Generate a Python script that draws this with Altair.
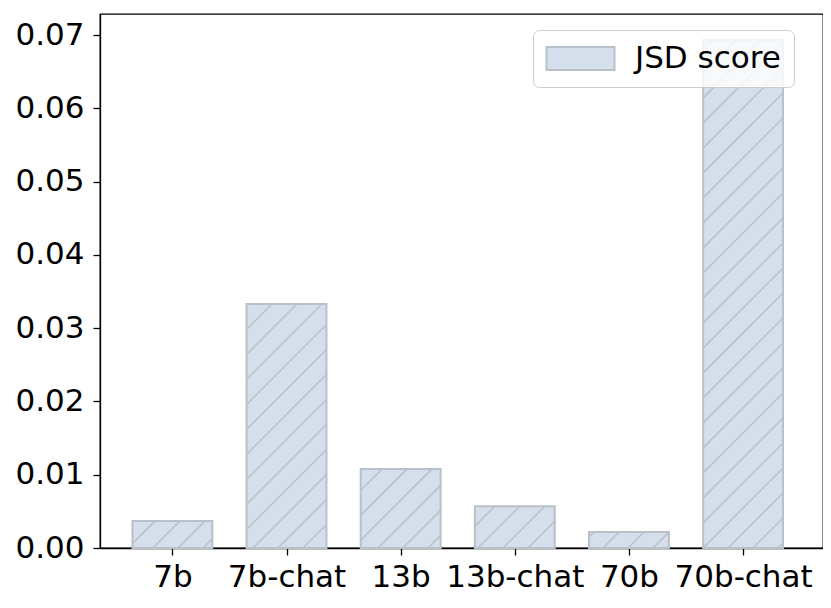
import json
import altair as alt
import pandas as pd

# ---- data ----
models = ["7b", "7b-chat", "13b", "13b-chat", "70b", "70b-chat"]
jsd = [0.0037, 0.0333, 0.0108, 0.0057, 0.0022, 0.0694]
y_ticks = [0.00, 0.01, 0.02, 0.03, 0.04, 0.05, 0.06, 0.07]
series_name = "JSD score"

# ---- layout / style ----
W, H = 723, 534
XDOM = [-0.634, 5.70]
YDOM = [0.0, 0.0729]
BAR_W = 0.7
HATCH_STEP = 25.0
HATCH_PHASE = 12.0
FILL = "#d5dfeb"
EDGE = "#b8c1c9"
FONT = "DejaVu Sans"
FS = 31


def to_px(xd, yd):
    px = (xd - XDOM[0]) / (XDOM[1] - XDOM[0]) * W
    py = (YDOM[1] - yd) / (YDOM[1] - YDOM[0]) * H
    return px, py


def from_px(px, py):
    xd = XDOM[0] + px / W * (XDOM[1] - XDOM[0])
    yd = YDOM[1] - py / H * (YDOM[1] - YDOM[0])
    return xd, yd


bars = pd.DataFrame({
    "pos": list(range(len(models))),
    "model": models,
    "jsd": jsd,
    "series": [series_name] * len(models),
})
bars["x0"] = bars["pos"] - BAR_W / 2
bars["x1"] = bars["pos"] + BAR_W / 2

# hatch segments ('/' at 45 degrees in screen space), clipped to each bar
segs = []
for _, r in bars.iterrows():
    x0, ytop = to_px(r["x0"], r["jsd"])
    x1, ybot = to_px(r["x1"], 0.0)
    cmin = x0 + ytop
    cmax = x1 + ybot
    k = int((cmin - HATCH_PHASE) // HATCH_STEP)
    while True:
        c = HATCH_PHASE + k * HATCH_STEP
        k += 1
        if c > cmax:
            break
        xs = max(x0, c - ybot)
        xe = min(x1, c - ytop)
        if xe - xs < 0.5:
            continue
        ax, ay = from_px(xs, c - xs)
        bx, by = from_px(xe, c - xe)
        segs.append({"hx": ax, "hy": ay, "hx2": bx, "hy2": by})
hatch = pd.DataFrame(segs)

xscale = alt.Scale(domain=XDOM, nice=False, zero=False)
yscale = alt.Scale(domain=YDOM, nice=False, zero=False)

label_expr = json.dumps(models) + "[round(datum.value)]"

SYM_SIZE = 841          # sqrt = 29 -> entry height = font size
HALF_W = 34.0 / 14.5
HALF_H = 11.5 / 14.5
sym_path = (f"M{-HALF_W:.3f},{-HALF_H:.3f}L{HALF_W:.3f},{-HALF_H:.3f}"
            f"L{HALF_W:.3f},{HALF_H:.3f}L{-HALF_W:.3f},{HALF_H:.3f}Z")

base_bars = alt.Chart(bars).mark_rect(stroke=EDGE, strokeWidth=2).encode(
    x=alt.X("x0:Q", scale=xscale,
            axis=alt.Axis(values=list(range(len(models))), labelExpr=label_expr,
                          title=None, grid=False, labelPadding=7)),
    x2="x1:Q",
    y=alt.Y("jsd:Q", scale=yscale,
            axis=alt.Axis(values=y_ticks, format=".2f", title=None, grid=False,
                          labelPadding=9)),
    y2=alt.datum(0),
    fill=alt.Fill("series:N",
                  scale=alt.Scale(domain=[series_name], range=[FILL]),
                  legend=alt.Legend(
                      title=None, orient="none", legendX=433, legendY=16,
                      fillColor="rgba(255,255,255,0.8)", strokeColor="#cccccc",
                      cornerRadius=6, padding=13,
                      symbolType=sym_path, symbolSize=SYM_SIZE,
                      symbolOffset=19, symbolStrokeColor=EDGE,
                      symbolStrokeWidth=2, symbolFillColor=FILL,
                      labelFontSize=FS, labelFont=FONT, labelColor="black",
                      labelOffset=39)),
)

hatch_layer = alt.Chart(hatch).mark_rule(color=EDGE, strokeWidth=1.5).encode(
    x=alt.X("hx:Q", scale=xscale),
    x2="hx2:Q",
    y=alt.Y("hy:Q", scale=yscale),
    y2="hy2:Q",
)

chart = alt.layer(base_bars, hatch_layer).properties(
    width=W, height=H,
    autosize=alt.AutoSizeParams(type="none"),
    padding={"left": 92, "top": 6, "right": 0, "bottom": 50},
).configure(font=FONT).configure_view(
    stroke="black", strokeWidth=1.3
).configure_axis(
    labelFont=FONT, labelFontSize=FS, labelColor="black",
    tickColor="black", tickSize=7, tickWidth=1.3,
    domainColor="black", domainWidth=1.3,
)

chart.save("out.html", embed_options={"renderer": "svg", "actions": False})
